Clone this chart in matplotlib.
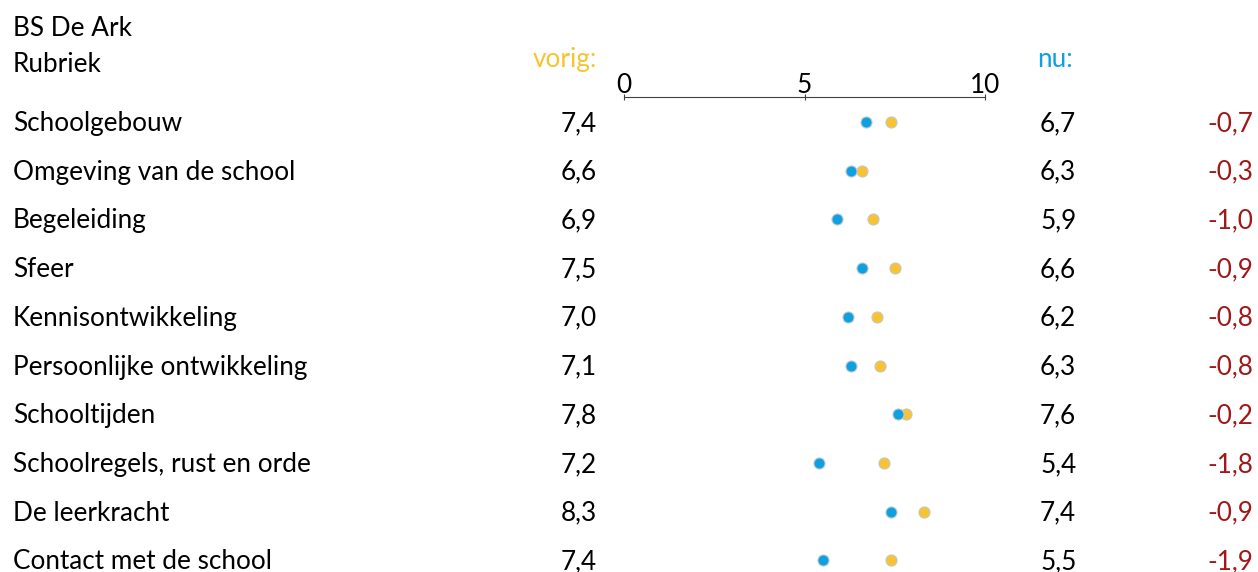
import matplotlib.pyplot as plt
from matplotlib.transforms import blended_transform_factory, offset_copy

rubrieken = ["Schoolgebouw", "Omgeving van de school", "Begeleiding", "Sfeer",
             "Kennisontwikkeling", "Persoonlijke ontwikkeling", "Schooltijden",
             "Schoolregels, rust en orde", "De leerkracht", "Contact met de school"]
vorig = [7.4, 6.6, 6.9, 7.5, 7.0, 7.1, 7.8, 7.2, 8.3, 7.4]
nu = [6.7, 6.3, 5.9, 6.6, 6.2, 6.3, 7.6, 5.4, 7.4, 5.5]
verschil = [-0.7, -0.3, -1.0, -0.9, -0.8, -0.8, -0.2, -1.8, -0.9, -1.9]
ticks = [0, 5, 10]

plt.rcParams['font.family'] = ['Lato', 'DejaVu Sans']
W, H = 1258, 572
fig = plt.figure(figsize=(W / 100, H / 100), dpi=100)

yellow = '#F7C331'
blue = '#0EA1E2'
red = '#A01818'
fs = 18.8

# axes: x 0..10 maps to px 624..985, top line at px 97
ax = fig.add_axes([624 / W, 0, 361 / W, 1 - 97 / H])
row0, step = 122, 48.7
ax.set_xlim(0, 10)
ax.set_ylim((H - row0) / step, (97 - row0) / step)

rows = range(len(rubrieken))
ax.plot(vorig, rows, 'o', color=yellow, markeredgecolor='#c8c8c8',
        markeredgewidth=0.8, markersize=8, zorder=3)
ax.plot(nu, rows, 'o', color=blue, markeredgecolor='#c8c8c8',
        markeredgewidth=0.8, markersize=8, zorder=4)

for s in ['left', 'right', 'bottom']:
    ax.spines[s].set_visible(False)
ax.spines['top'].set_color('#404040')
ax.xaxis.tick_top()
ax.set_xticks(ticks)
ax.set_xticklabels([str(t) for t in ticks], fontsize=fs)
ax.tick_params(axis='x', direction='inout', length=5, pad=-3, color='#404040')
ax.set_yticks([])
ax.patch.set_visible(False)

tr = blended_transform_factory(fig.transFigure, ax.transData)
tr = offset_copy(tr, fig=fig, y=-9, units='dots')
fmt = lambda v: f"{v:.1f}".replace('.', ',')
for i in rows:
    fig.text(13 / W, i, rubrieken[i], transform=tr, fontsize=fs, va='baseline', ha='left')
    fig.text(597 / W, i, fmt(vorig[i]), transform=tr, fontsize=fs, va='baseline', ha='right')
    fig.text(1040 / W, i, fmt(nu[i]), transform=tr, fontsize=fs, va='baseline', ha='left')
    fig.text(1253 / W, i, fmt(verschil[i]), transform=tr, fontsize=fs, va='baseline',
             ha='right', color=red)

fig.text(13 / W, 1 - 36 / H, "BS De Ark", fontsize=fs, va='baseline', ha='left')
fig.text(13 / W, 1 - 72 / H, "Rubriek", fontsize=fs, va='baseline', ha='left')
fig.text(597 / W, 1 - 67 / H, "vorig:", fontsize=fs, va='baseline', ha='right', color=yellow)
fig.text(1037 / W, 1 - 67 / H, "nu:", fontsize=fs, va='baseline', ha='left', color=blue)

fig.savefig("out.png", dpi=100)
